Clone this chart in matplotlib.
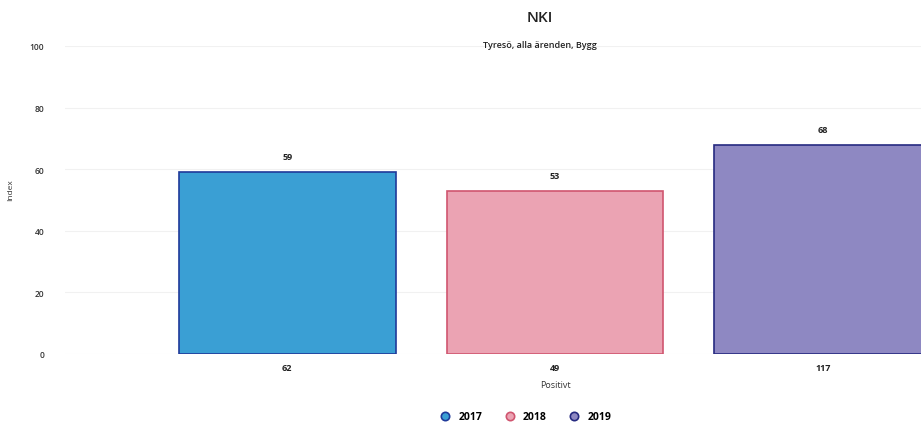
import matplotlib
matplotlib.use("Agg")
import matplotlib.pyplot as plt
from matplotlib.lines import Line2D

plt.rcParams['font.family'] = ['Open Sans', 'DejaVu Sans']

years = ["2017", "2018", "2019"]
category = "Positivt"
index_values = [59, 53, 68]
counts = [62, 49, 117]
yticks = [0, 20, 40, 60, 80, 100]
title = "NKI"
subtitle = "Tyresö, alla ärenden, Bygg"
ylabel = "Index"

fills = ["#3a9fd4", "#eba3b3", "#8e88c2"]
edges = ["#1f3a9a", "#d0556f", "#262a80"]

fig = plt.figure(figsize=(9.21, 4.27), dpi=100)
ax = fig.add_axes([0.0706, 1 - 355 / 427, 1.064, (355 - 47) / 427])

offsets = [-1, 0, 1]
width = 0.81
for off, v, n, fc, ec in zip(offsets, index_values, counts, fills, edges):
    ax.bar(off, v, width=width, color=fc, edgecolor=ec, linewidth=1.2, zorder=3)
    ax.text(off, v + 3.5, str(v), ha="center", va="bottom", fontsize=6.5,
            fontweight="bold", color="#222222")
    ax.text(off, -2.8, str(n), ha="center", va="top", fontsize=6.5,
            fontweight="bold", color="#222222")

ax.text(0, -8.5, category, ha="center", va="top", fontsize=6.5, color="#333333")

ax.set_xlim(-1.83, 1.83)
ax.set_ylim(0, 100)
ax.set_yticks(yticks)
ax.set_yticklabels([str(t) for t in yticks], fontsize=6, color="#333333",
                   fontweight="semibold")
ax.set_xticks([])
ax.tick_params(axis="y", length=0, pad=15)
ax.grid(axis="y", color="#f1f1f1", linewidth=0.8, zorder=0)
for s in ax.spines.values():
    s.set_visible(False)

fig.text(11 / 921, 1 - 190 / 427, ylabel, rotation=90, ha="center", va="center",
         fontsize=6, color="#333333")
fig.text(540 / 921, 1 - 18 / 427, title, ha="center", va="center", fontsize=11,
         color="#222222", fontweight="semibold")
fig.text(540 / 921, 1 - 45 / 427, subtitle, ha="center", va="center", fontsize=6.5,
         color="#222222", fontweight="semibold")

handles = [Line2D([], [], marker="o", linestyle="", markersize=6,
                  markerfacecolor=fc, markeredgecolor=ec, markeredgewidth=1.2)
           for fc, ec in zip(fills, edges)]
leg = fig.legend(handles, years, loc="center", bbox_to_anchor=(523 / 921, 1 - 418 / 427),
                 ncol=3, frameon=False, handletextpad=0.3, columnspacing=1.6,
                 prop={"size": 7.5, "weight": "bold"})

fig.savefig("out.png", dpi=100)
